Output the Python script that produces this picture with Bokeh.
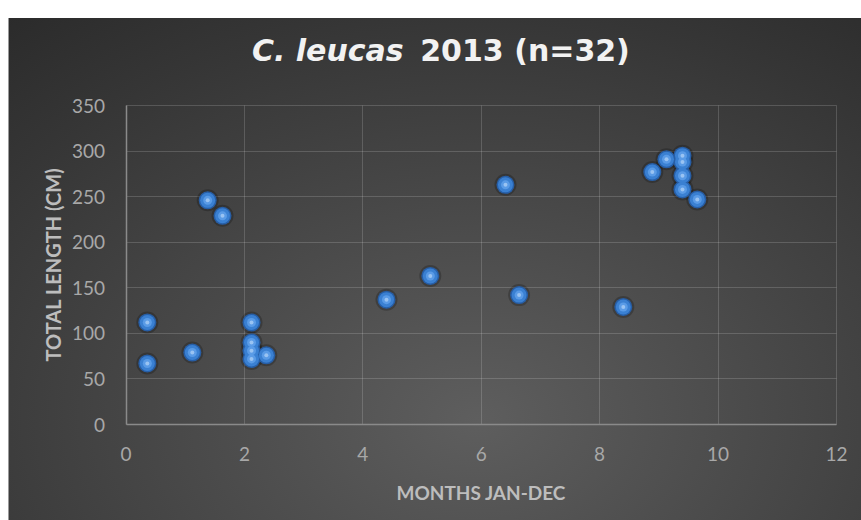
import math
from bokeh.plotting import figure
from bokeh.models import Range1d, FixedTicker, Label, ColumnDataSource, Grid
from bokeh.embed import file_html
from bokeh.resources import INLINE

# Data (month as decimal, total length in cm)
months = [0.36, 0.36, 1.12, 1.38, 1.63, 2.12, 2.12, 2.12, 2.12, 2.37,
          4.40, 5.14, 6.41, 6.64, 8.40,
          8.89, 9.13, 9.40, 9.40, 9.40, 9.40, 9.65]
lengths = [112, 67, 79, 246, 229, 112, 90, 81, 72, 76,
           137, 163, 263, 142, 129,
           277, 291, 295, 288, 273, 258, 247]
x_ticks = [0, 2, 4, 6, 8, 10, 12]
y_ticks = [0, 50, 100, 150, 200, 250, 300, 350]
x_bounds = (0, 12)
y_bounds = (0, 350)
title_italic = "C. leucas"
title_rest = "2013 (n=32)"
x_label = "MONTHS JAN-DEC"
y_label = "TOTAL LENGTH (CM)"

W, H = 853, 502
# The frame covers the whole canvas; axes sit at the origin and grid/axes are
# bounded to the data area, so the titles can be placed freely as labels.
p = figure(width=W, height=H, output_backend="svg", toolbar_location=None,
           x_range=Range1d(-1.985, 12.424), y_range=Range1d(-105.3, 445.5),
           min_border=0)
p.styles = {
    "margin-top": "18px",
    "margin-left": "8px",
    "background": "radial-gradient(ellipse 95% 115% at 55% 80%, #5e5e5e 0%, #4a4a4a 35%, #363636 70%, #262626 100%)",
    "box-shadow": "inset 1px 0 0 #9a9a9a",
}
p.background_fill_alpha = 0
p.border_fill_alpha = 0
p.outline_line_color = None

for ax in (p.xaxis, p.yaxis):
    ax.fixed_location = 0
    ax.axis_line_color = "#8a8a8a"
    ax.axis_line_width = 1.5
    ax.major_tick_line_color = None
    ax.minor_tick_line_color = None
    ax.major_label_text_color = "#a8a8a8"
    ax.major_label_text_font = "Lato"
    ax.major_label_text_font_size = "19px"

p.xaxis.ticker = FixedTicker(ticks=x_ticks)
p.yaxis.ticker = FixedTicker(ticks=y_ticks)
p.xaxis.bounds = x_bounds
p.yaxis.bounds = y_bounds
p.xaxis.major_label_standoff = 16
p.yaxis.major_label_standoff = 15

grid_color, grid_alpha = "#ffffff", 0.16
if "cross_bounds" in Grid.properties():
    p.xgrid.ticker = FixedTicker(ticks=x_ticks)
    p.ygrid.ticker = FixedTicker(ticks=y_ticks)
    p.xgrid.bounds = x_bounds
    p.xgrid.cross_bounds = y_bounds
    p.ygrid.bounds = y_bounds
    p.ygrid.cross_bounds = x_bounds
    p.grid.grid_line_color = grid_color
    p.grid.grid_line_alpha = grid_alpha
    p.grid.grid_line_width = 1
else:
    p.grid.visible = False
    p.segment(x0=x_ticks, x1=x_ticks, y0=[y_bounds[0]] * len(x_ticks),
              y1=[y_bounds[1]] * len(x_ticks), line_color=grid_color,
              line_alpha=grid_alpha, line_width=1)
    p.segment(x0=[x_bounds[0]] * len(y_ticks), x1=[x_bounds[1]] * len(y_ticks),
              y0=y_ticks, y1=y_ticks, line_color=grid_color,
              line_alpha=grid_alpha, line_width=1)

src = ColumnDataSource(dict(x=months, y=lengths))
# shadow
p.scatter("x", "y", source=src, size=22, fill_color="#000000", fill_alpha=0.22,
          line_color=None)
# sphere body
p.scatter("x", "y", source=src, size=18, fill_color="#275ea6", line_color=None)
p.scatter("x", "y", source=src, size=15, fill_color="#3a80d2", line_color=None)
p.scatter("x", "y", source=src, size=9, fill_color="#5a9be6", line_color=None)
p.scatter("x", "y", source=src, size=4, fill_color="#a9cdf5", line_color=None, fill_alpha=0.8)

# title
p.add_layout(Label(x=4.69, y=410, text=title_italic, text_align="right",
                   text_baseline="alphabetic",
                   text_font="DejaVu Sans", text_font_style="bold italic",
                   text_font_size="30px", text_color="#f2f2f2"))
p.add_layout(Label(x=4.97, y=410, text=title_rest, text_align="left",
                   text_baseline="alphabetic",
                   text_font="DejaVu Sans", text_font_style="bold",
                   text_font_size="30px", text_color="#f2f2f2"))

# axis titles
p.add_layout(Label(x=6.0, y=-74.6, text=x_label, text_align="center",
                   text_baseline="middle", text_font="Lato",
                   text_font_style="bold", text_font_size="19px",
                   text_color="#bdbdbd"))
p.add_layout(Label(x=-1.24, y=175.5, text=y_label, text_align="center",
                   text_baseline="middle", angle=math.pi / 2,
                   text_font="Lato", text_font_style="bold",
                   text_font_size="20px", text_color="#bdbdbd"))

open("out.html", "w").write(file_html(p, INLINE))
